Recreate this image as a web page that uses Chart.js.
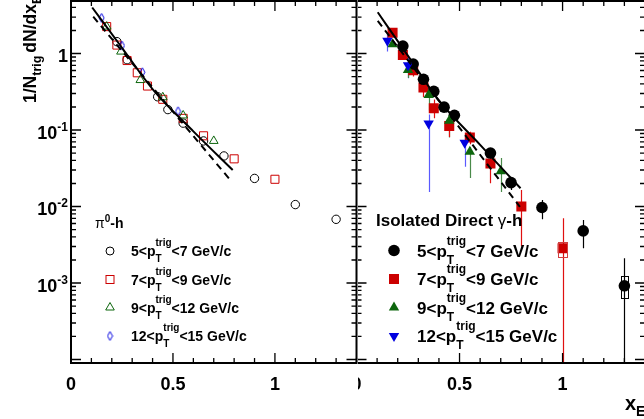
<!DOCTYPE html>
<html><head><meta charset="utf-8">
<script src="https://cdn.jsdelivr.net/npm/chart.js@4.4.1/dist/chart.umd.min.js"></script>
<style>
html,body{margin:0;padding:0;background:#fff;overflow:hidden;}
#wrap{position:relative;width:644px;height:419px;overflow:hidden;background:#fff;}
#cR,#cL{position:absolute;left:0;top:0;}
</style></head><body>
<div id="wrap">
<canvas id="cR" width="660" height="419" style="width:660px;height:419px"></canvas>
<canvas id="cL" width="358" height="419" style="width:358px;height:419px"></canvas>
</div>
<script>
// ================= DATA =================
const xMin = 0, xMax = 1.4;
const yMin = 9.0e-5, yMax = 4.86;

const xTickValues = [0, 0.5, 1];
const xTickLabels = ['0', '0.5', '1'];
const yTickValues = [1, 0.1, 0.01, 0.001];
const yTickBase = ['1', '10', '10', '10'];
const yTickExp = ['', '-1', '-2', '-3'];

const trigLow = ['5', '7', '9', '12'];
const trigHigh = ['7', '9', '12', '15'];

// ---- left panel: pi0-h ----
const pi0_5_7_x = [0.225, 0.275, 0.425, 0.475, 0.55, 0.65, 0.75, 0.9, 1.1, 1.3];
const pi0_5_7_y = [1.43, 0.83, 0.272, 0.185, 0.123, 0.072, 0.0458, 0.0233, 0.0106, 0.0068];
const pi0_7_9_x = [0.175, 0.225, 0.275, 0.325, 0.375, 0.45, 0.55, 0.65, 0.8, 1.0];
const pi0_7_9_y = [2.25, 1.29, 0.81, 0.56, 0.376, 0.252, 0.142, 0.084, 0.042, 0.0227];
const pi0_9_12_x = [0.175, 0.245, 0.34, 0.45, 0.55, 0.70];
const pi0_9_12_y = [2.25, 1.06, 0.45, 0.268, 0.155, 0.072];
const pi0_12_15_x = [0.15, 0.25, 0.35, 0.525];
const pi0_12_15_y = [2.92, 1.27, 0.57, 0.176];

const fitL_solid_x = [0.104, 0.25, 0.404, 0.6, 0.793];
const fitL_solid_y = [4.0, 1.19, 0.333, 0.096, 0.030];
const fitL_dash_x = [0.109, 0.788];
const fitL_dash_y = [3.03, 0.0211];

// ---- right panel: isolated direct photon-h ----
const dir_5_7_x = [0.225, 0.275, 0.325, 0.375, 0.425, 0.475, 0.65, 0.75, 0.9, 1.1, 1.3];
const dir_5_7_y = [1.25, 0.73, 0.46, 0.32, 0.199, 0.156, 0.05, 0.0205, 0.0097, 0.0048, 0.00092];
const dir_5_7_lo = [null, null, null, null, null, null, null, 0.0164, 0.0068, 0.00284, 1e-6];
const dir_5_7_hi = [null, null, null, null, null, null, null, 0.0236, 0.0122, 0.00667, 0.0021];

const dir_7_9_x = [0.175, 0.225, 0.275, 0.325, 0.375, 0.45, 0.55, 0.65, 0.8, 1.0];
const dir_7_9_y = [1.87, 0.955, 0.605, 0.36, 0.192, 0.113, 0.08, 0.0365, 0.01, 0.00284];
const dir_7_9_lo = [null, null, 0.5, 0.27, 0.143, 0.081, 0.065, 0.0201, 0.003, 1e-6];
const dir_7_9_hi = [null, null, 0.72, 0.45, 0.25, 0.14, 0.095, 0.0448, 0.0164, 0.007];

const dir_9_12_x = [0.175, 0.25, 0.35, 0.45, 0.55, 0.70];
const dir_9_12_y = [1.32, 0.61, 0.287, 0.132, 0.052, 0.029];
const dir_9_12_lo = [null, 0.48, 0.18, 0.08, 0.0236, 0.0155];
const dir_9_12_hi = [null, 0.72, 0.36, 0.17, 0.06, 0.043];

const dir_12_15_x = [0.15, 0.25, 0.35, 0.525];
const dir_12_15_y = [1.47, 0.70, 0.122, 0.068];
const dir_12_15_lo = [1.06, 0.474, 0.0155, 0.033];
const dir_12_15_hi = [1.9, 0.9, 0.16, 0.085];

// systematic boxes: x, half-width, low, high
const sysBox_x = [1.0, 1.3];
const sysBox_hw = [0.022, 0.016];
const sysBox_lo = [0.00221, 0.00063];
const sysBox_hi = [0.00347, 0.00124];
const sysBox_col = ['#d04040', '#000000'];

const fitR_solid_x = [0.103, 0.25, 0.398, 0.6, 0.796];
const fitR_solid_y = [3.46, 0.93, 0.247, 0.064, 0.0173];
const fitR_dash_x = [0.103, 0.793];
const fitR_dash_y = [2.68, 0.0099];

// ================= STYLE / HELPERS =================
const FONT = '"Liberation Sans", Arial, Helvetica, sans-serif';
const RED = '#cc0000', GREEN = '#0d660d', BLUE = '#0000e0';

function pts(xs, ys) { return xs.map((x, i) => ({x: x, y: ys[i]})); }

function diamondCanvas(w, h, color) {
  const c = document.createElement('canvas');
  c.width = w + 2; c.height = h + 2;
  const g = c.getContext('2d');
  g.strokeStyle = color; g.lineWidth = 1;
  g.beginPath();
  g.moveTo((w + 2) / 2, 1); g.lineTo(w + 1, (h + 2) / 2);
  g.lineTo((w + 2) / 2, h + 1); g.lineTo(1, (h + 2) / 2); g.closePath();
  g.stroke();
  return c;
}
const openDiamond = diamondCanvas(5, 9, BLUE);

function richText(ctx, segs, x, y, F, f, subDy, supDy) {
  let cx = x;
  for (const s of segs) {
    if (s.gap) { cx += s.gap; continue; }
    if (s.t !== undefined) {
      ctx.font = (s.normal ? '' : 'bold ') + F + 'px ' + FONT;
      ctx.fillText(s.t, cx, y);
      cx += ctx.measureText(s.t).width;
    } else {
      ctx.font = 'bold ' + f + 'px ' + FONT;
      let w = 0;
      if (s.sub) { ctx.fillText(s.sub, cx, y + subDy); w = Math.max(w, ctx.measureText(s.sub).width); }
      if (s.sup) { ctx.fillText(s.sup, cx, y - supDy); w = Math.max(w, ctx.measureText(s.sup).width); }
      cx += w;
    }
  }
  return cx - x;
}

function drawMarker(ctx, kind, x, y) {
  ctx.save();
  ctx.lineWidth = 1;
  if (kind === 'ocircle') { ctx.strokeStyle = '#000'; ctx.beginPath(); ctx.arc(x, y, 4, 0, 2 * Math.PI); ctx.stroke(); }
  else if (kind === 'osquare') { ctx.strokeStyle = RED; ctx.strokeRect(x - 4, y - 4, 8, 8); }
  else if (kind === 'otri') { ctx.strokeStyle = GREEN; ctx.beginPath(); ctx.moveTo(x, y - 5); ctx.lineTo(x + 4.3, y + 2.5); ctx.lineTo(x - 4.3, y + 2.5); ctx.closePath(); ctx.stroke(); }
  else if (kind === 'odiam') { ctx.drawImage(openDiamond, x - openDiamond.width / 2, y - openDiamond.height / 2); }
  else if (kind === 'fcircle') { ctx.fillStyle = '#000'; ctx.beginPath(); ctx.arc(x, y, 5.8, 0, 2 * Math.PI); ctx.fill(); }
  else if (kind === 'fsquare') { ctx.fillStyle = RED; ctx.fillRect(x - 5, y - 5, 10, 10); }
  else if (kind === 'ftri') { ctx.fillStyle = GREEN; ctx.beginPath(); ctx.moveTo(x, y - 6); ctx.lineTo(x + 5.2, y + 3); ctx.lineTo(x - 5.2, y + 3); ctx.closePath(); ctx.fill(); }
  else if (kind === 'fdtri') { ctx.fillStyle = BLUE; ctx.beginPath(); ctx.moveTo(x, y + 6); ctx.lineTo(x + 5.2, y - 3); ctx.lineTo(x - 5.2, y - 3); ctx.closePath(); ctx.fill(); }
  ctx.restore();
}

function trigSegs(i) {
  return [{t: trigLow[i] + '<p'}, {sub: 'T', sup: 'trig'}, {t: '<' + trigHigh[i] + ' GeV/c'}];
}

const framePlugin = {
  id: 'frame',
  beforeDraw(chart) {
    const ctx = chart.ctx;
    ctx.save(); ctx.fillStyle = '#fff'; ctx.fillRect(0, 0, chart.width, chart.height); ctx.restore();
  },
  beforeDatasetsDraw(chart) {
    const ctx = chart.ctx, a = chart.chartArea, ys = chart.scales.y;
    ctx.save();
    ctx.beginPath(); ctx.rect(a.left, a.top, a.right - a.left, a.bottom - a.top); ctx.clip();
    chart.data.datasets.forEach((ds, di) => {
      if (!ds.errLo) return;
      const meta = chart.getDatasetMeta(di);
      ctx.strokeStyle = ds.errColor; ctx.lineWidth = 1.2;
      meta.data.forEach((el, i) => {
        if (ds.errLo[i] == null) return;
        const x = Math.round(el.x) + 0.5;
        ctx.beginPath();
        ctx.moveTo(x, ys.getPixelForValue(ds.errHi[i]));
        ctx.lineTo(x, ys.getPixelForValue(ds.errLo[i]));
        ctx.stroke();
      });
    });
    ctx.restore();
  },
  afterDatasetsDraw(chart, args, opts) {
    const ctx = chart.ctx, xs = chart.scales.x, ys = chart.scales.y;
    if (opts.sys) {
      ctx.save();
      ctx.lineWidth = 1;
      sysBox_x.forEach((bx, i) => {
        const x1 = xs.getPixelForValue(bx - sysBox_hw[i]), x2 = xs.getPixelForValue(bx + sysBox_hw[i]);
        const y1 = ys.getPixelForValue(sysBox_hi[i]), y2 = ys.getPixelForValue(sysBox_lo[i]);
        ctx.strokeStyle = sysBox_col[i];
        ctx.strokeRect(Math.round(x1) + 0.5, Math.round(y1) + 0.5, Math.round(x2 - x1), Math.round(y2 - y1));
      });
      ctx.restore();
    }
  },
  afterDraw(chart, args, opts) {
    const ctx = chart.ctx, a = chart.chartArea, xs = chart.scales.x, ys = chart.scales.y;
    ctx.save();
    ctx.strokeStyle = '#000';
    ctx.lineWidth = 1.3;
    ctx.beginPath();
    for (let i = 0; i <= 14; i++) {
      const v = i / 10, px = xs.getPixelForValue(v);
      const L = (i % 5 === 0) ? 10 : 5;
      ctx.moveTo(px, a.bottom); ctx.lineTo(px, a.bottom - L);
      ctx.moveTo(px, a.top); ctx.lineTo(px, a.top + L);
    }
    for (let e = -5; e <= 1; e++) {
      for (let m = 1; m <= 9; m++) {
        const v = m * Math.pow(10, e);
        if (v < ys.min || v > ys.max) continue;
        const py = ys.getPixelForValue(v);
        const L = (m === 1) ? 10 : 5;
        ctx.moveTo(a.left, py); ctx.lineTo(a.left + L, py);
        ctx.moveTo(a.right, py); ctx.lineTo(a.right - L, py);
      }
    }
    ctx.stroke();
    ctx.lineWidth = 2;
    ctx.strokeRect(a.left, a.top, a.right - a.left, a.bottom - a.top);

    ctx.fillStyle = '#000';
    ctx.textAlign = 'center'; ctx.textBaseline = 'alphabetic';
    ctx.font = 'bold 18px ' + FONT;
    xTickValues.forEach((v, i) => { ctx.fillText(xTickLabels[i], xs.getPixelForValue(v), 390); });
    if (opts.yLabels) {
      yTickValues.forEach((v, i) => {
        const py = ys.getPixelForValue(v);
        ctx.textAlign = 'left'; ctx.textBaseline = 'alphabetic';
        ctx.font = 'bold 12px ' + FONT;
        const we = yTickExp[i] ? ctx.measureText(yTickExp[i]).width : 0;
        ctx.font = 'bold 18px ' + FONT;
        const wb = ctx.measureText(yTickBase[i]).width;
        const x0 = a.left - 3 - we - wb;
        ctx.fillText(yTickBase[i], x0, py + 8.5);
        if (yTickExp[i]) { ctx.font = 'bold 12px ' + FONT; ctx.fillText(yTickExp[i], x0 + wb, py + 0.5); }
      });
      ctx.save();
      ctx.translate(36, 103);
      ctx.rotate(-Math.PI / 2);
      ctx.textAlign = 'left';
      richText(ctx, [{t: '1/N'}, {sub: 'trig'}, {gap: 3}, {t: 'dN/dx'}, {sub: 'E'}], 0, 0, 17.5, 12.5, 5, 0);
      ctx.restore();
    }
    if (opts.xTitle) {
      ctx.textAlign = 'left';
      richText(ctx, [{t: 'x'}, {sub: 'E'}], 625, 410, 20, 14, 6, 0);
    }
    ctx.textAlign = 'left'; ctx.textBaseline = 'alphabetic';
    if (opts.legend === 'left') {
      richText(ctx, [{t: '\u03c0', normal: true}, {sup: '0'}, {t: '-h'}], 95, 228, 14, 10, 0, 6);
      const kinds = ['ocircle', 'osquare', 'otri', 'odiam'];
      const rows = [251, 279.5, 307.5, 336];
      rows.forEach((ry, i) => {
        drawMarker(ctx, kinds[i], 110, ry);
        ctx.fillStyle = '#000';
        richText(ctx, trigSegs(i), 131, ry + 5, 14, 10, 6, 10);
      });
    } else if (opts.legend === 'right') {
      richText(ctx, [{t: 'Isolated Direct '}, {t: '\u03b3', normal: true}, {t: '-h'}], 376, 226, 17, 12, 0, 0);
      const kinds = ['fcircle', 'fsquare', 'ftri', 'fdtri'];
      const rows = [250.5, 279, 307.5, 336];
      rows.forEach((ry, i) => {
        drawMarker(ctx, kinds[i], 394, ry);
        ctx.fillStyle = '#000';
        richText(ctx, trigSegs(i), 417, ry + 6, 17, 12, 7, 12);
      });
    }
    ctx.restore();
  }
};

function fitDatasets(sx, sy, dx, dy) {
  return [
    {type: 'line', data: pts(sx, sy), borderColor: '#000', borderWidth: 2, pointRadius: 0, showLine: true, fill: false, cubicInterpolationMode: 'monotone'},
    {type: 'line', data: pts(dx, dy), borderColor: '#000', borderWidth: 2, borderDash: [7, 5], pointRadius: 0, showLine: true, fill: false}
  ];
}

function baseOptions(padding, frameOpts) {
  return {
    responsive: false, animation: false, devicePixelRatio: 1,
    layout: {padding: padding, autoPadding: false},
    plugins: {legend: {display: false}, tooltip: {enabled: false}, frame: frameOpts},
    scales: {
      x: {type: 'linear', min: xMin, max: xMax, display: false},
      y: {type: 'logarithmic', min: yMin, max: yMax, display: false}
    },
    elements: {line: {tension: 0}}
  };
}

// ================= RIGHT CHART =================
new Chart(document.getElementById('cR'), {
  type: 'scatter',
  data: {datasets: [
    ...fitDatasets(fitR_solid_x, fitR_solid_y, fitR_dash_x, fitR_dash_y),
    {data: pts(dir_12_15_x, dir_12_15_y), pointStyle: 'triangle', rotation: 180, radius: 6, backgroundColor: BLUE, borderColor: BLUE, borderWidth: 0,
     errLo: dir_12_15_lo, errHi: dir_12_15_hi, errColor: '#5a5aff'},
    {data: pts(dir_9_12_x, dir_9_12_y), pointStyle: 'triangle', radius: 6, backgroundColor: GREEN, borderColor: GREEN, borderWidth: 0,
     errLo: dir_9_12_lo, errHi: dir_9_12_hi, errColor: '#4a8a4a'},
    {data: pts(dir_5_7_x, dir_5_7_y), pointStyle: 'circle', radius: 5.8, backgroundColor: '#000', borderColor: '#000', borderWidth: 0,
     errLo: dir_5_7_lo, errHi: dir_5_7_hi, errColor: '#000'},
    {data: pts(dir_7_9_x, dir_7_9_y), pointStyle: 'rect', radius: 7.1, backgroundColor: RED, borderColor: RED, borderWidth: 0,
     errLo: dir_7_9_lo, errHi: dir_7_9_hi, errColor: '#e01010'}
  ]},
  options: baseOptions({left: 356.5, right: 15, top: 1, bottom: 56}, {yLabels: false, xTitle: true, legend: 'right', sys: true}),
  plugins: [framePlugin]
});

// ================= LEFT CHART =================
new Chart(document.getElementById('cL'), {
  type: 'scatter',
  data: {datasets: [
    ...fitDatasets(fitL_solid_x, fitL_solid_y, fitL_dash_x, fitL_dash_y),
    {data: pts(pi0_12_15_x, pi0_12_15_y), pointStyle: openDiamond, radius: 5},
    {data: pts(pi0_9_12_x, pi0_9_12_y), pointStyle: 'triangle', radius: 5, backgroundColor: 'rgba(0,0,0,0)', borderColor: GREEN, borderWidth: 1},
    {data: pts(pi0_7_9_x, pi0_7_9_y), pointStyle: 'rect', radius: 5.7, backgroundColor: 'rgba(0,0,0,0)', borderColor: RED, borderWidth: 1},
    {data: pts(pi0_5_7_x, pi0_5_7_y), pointStyle: 'circle', radius: 4.2, backgroundColor: 'rgba(0,0,0,0)', borderColor: '#000', borderWidth: 1}
  ]},
  options: baseOptions({left: 71, right: 1.5, top: 1, bottom: 56}, {yLabels: true, xTitle: false, legend: 'left', sys: false}),
  plugins: [framePlugin]
});
</script>
</body></html>
